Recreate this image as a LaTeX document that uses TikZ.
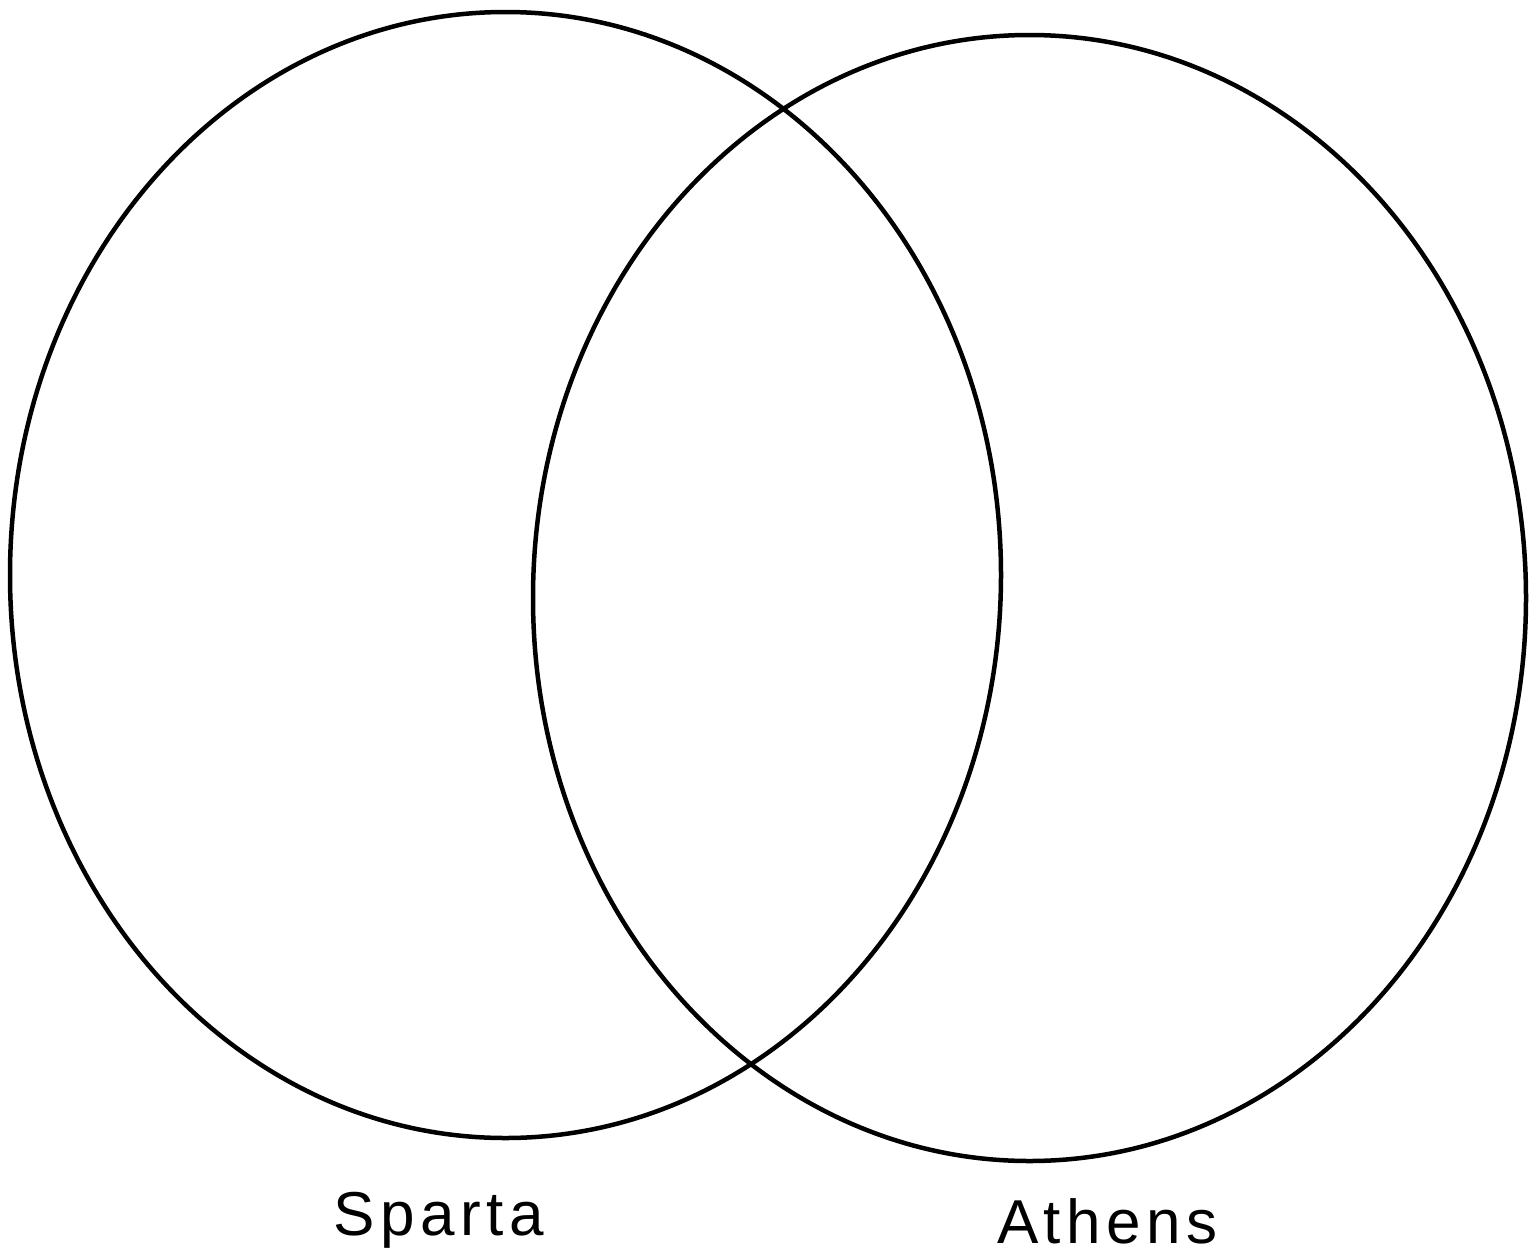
\documentclass[tikz,border=0pt]{standalone}
\usepackage{fontspec}
\usetikzlibrary{shapes.geometric}
\setmainfont[LetterSpace=9]{Liberation Sans}
\begin{document}
\begin{tikzpicture}[x=1pt,y=-1pt,
  ring/.style={draw=black,line width=4.5pt},
  lbl/.style={anchor=base,inner sep=0pt,font=\fontsize{62}{70}\selectfont}]
\useasboundingbox[fill=white] (0,0) rectangle (1540,1253);
\node[ring,ellipse,minimum width=991,minimum height=1126,inner sep=0pt] (sparta) at (505.5,575) {};
\node[ring,ellipse,minimum width=993,minimum height=1126,inner sep=0pt] (athens) at (1029.5,598) {};
\node[lbl] (ls) at (438.5,1235) {Sparta};
\node[lbl] (la) at (1107.5,1243) {Athens};
\end{tikzpicture}
\end{document}
